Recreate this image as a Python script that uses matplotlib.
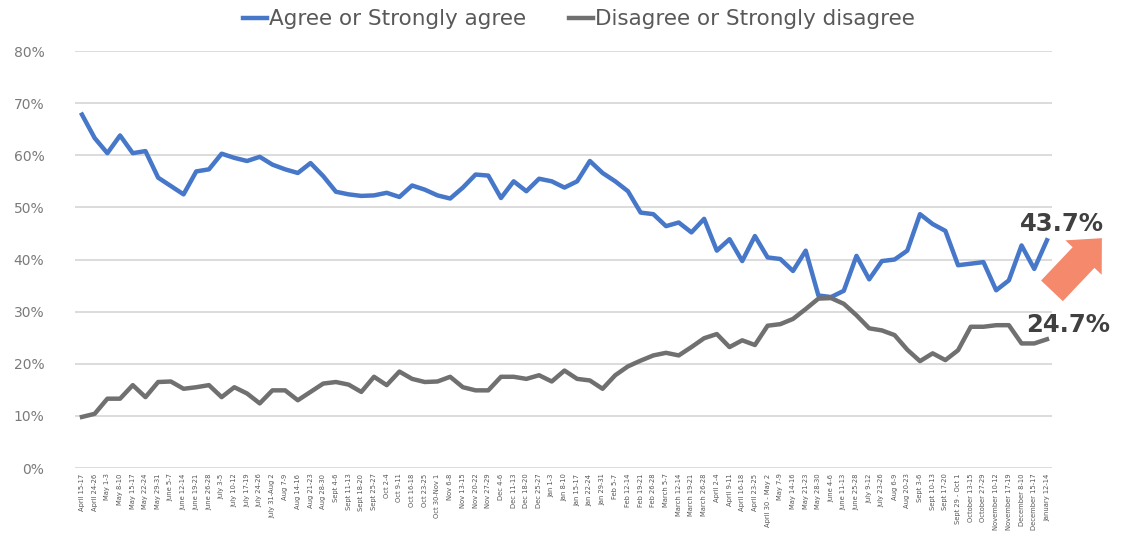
import matplotlib
matplotlib.use("Agg")
import matplotlib.pyplot as plt
from matplotlib.ticker import PercentFormatter

# weekly survey waves (x axis)
waves = [
    "April 15-17", "April 24-26", "May 1-3", "May 8-10", "May 15-17", "May 22-24",
    "May 29-31", "June 5-7", "June 12-14", "June 19-21", "June 26-28", "July 3-5",
    "July 10-12", "July 17-19", "July 24-26", "July 31-Aug 2", "Aug 7-9", "Aug 14-16",
    "Aug 21-23", "Aug 28-30", "Sept 4-6", "Sept 11-13", "Sept 18-20", "Sept 25-27",
    "Oct 2-4", "Oct 9-11", "Oct 16-18", "Oct 23-25", "Oct 30-Nov 1", "Nov 6-8",
    "Nov 13-15", "Nov 20-22", "Nov 27-29", "Dec 4-6", "Dec 11-13", "Dec 18-20",
    "Dec 25-27", "Jan 1-3", "Jan 8-10", "Jan 15-17", "Jan 22-24", "Jan 29-31",
    "Feb 5-7", "Feb 12-14", "Feb 19-21", "Feb 26-28", "March 5-7", "March 12-14",
    "March 19-21", "March 26-28", "April 2-4", "April 9-11", "April 16-18", "April 23-25",
    "April 30 - May 2", "May 7-9", "May 14-16", "May 21-23", "May 28-30", "June 4-6",
    "June 11-13", "June 25-28", "July 9-12", "July 23-26", "Aug 6-9", "Aug 20-23",
    "Sept 3-6", "Sept 10-13", "Sept 17-20", "Sept 29 - Oct 1", "October 13-15",
    "October 27-29", "November 10-12", "November 17-19", "December 8-10",
    "December 15-17", "January 12-14",
]

agree = [
    67.8, 63.3, 60.4, 63.8, 60.4, 60.8, 55.7, 54.1, 52.5, 56.9,
    57.3, 60.3, 59.5, 58.9, 59.7, 58.2, 57.3, 56.6, 58.5, 56.0,
    53.0, 52.5, 52.2, 52.3, 52.8, 52.0, 54.2, 53.4, 52.3, 51.7,
    53.8, 56.3, 56.1, 51.8, 55.0, 53.1, 55.5, 55.0, 53.8, 55.0,
    58.9, 56.6, 55.0, 53.1, 49.0, 48.7, 46.4, 47.1, 45.2, 47.8,
    41.7, 43.9, 39.7, 44.5, 40.4, 40.1, 37.8, 41.7, 33.1, 32.8,
    34.0, 40.7, 36.2, 39.7, 40.0, 41.7, 48.7, 46.8, 45.5, 38.9,
    39.2, 39.5, 34.1, 36.0, 42.7, 38.2, 43.7,
]

disagree = [
    9.8, 10.4, 13.3, 13.3, 15.9, 13.6, 16.5, 16.6, 15.2, 15.5,
    15.9, 13.6, 15.5, 14.3, 12.4, 14.9, 14.9, 13.0, 14.6, 16.2,
    16.5, 16.0, 14.6, 17.5, 15.9, 18.5, 17.1, 16.5, 16.6, 17.5,
    15.5, 14.9, 14.9, 17.5, 17.5, 17.1, 17.8, 16.6, 18.7, 17.1,
    16.8, 15.2, 17.8, 19.5, 20.6, 21.6, 22.1, 21.6, 23.2, 24.9,
    25.7, 23.2, 24.5, 23.6, 27.3, 27.6, 28.6, 30.5, 32.5, 32.6,
    31.5, 29.3, 26.8, 26.4, 25.5, 22.7, 20.5, 22.0, 20.7, 22.6,
    27.1, 27.1, 27.4, 27.4, 23.9, 23.9, 24.7,
]

blue = "#4677c8"
grey = "#707070"
txt = "#7a7a7a"

fig = plt.figure(figsize=(11.26, 5.49), dpi=100)
ax = fig.add_axes([0.0666, 0.1475, 0.8677, 0.7596])

x = list(range(len(waves)))
ax.plot(x, agree, color=blue, lw=3.2, solid_joinstyle="round",
        label="Agree or Strongly agree", zorder=3)
ax.plot(x, disagree, color=grey, lw=3.2, solid_joinstyle="round",
        label="Disagree or Strongly disagree", zorder=3)

ax.set_ylim(0, 80)
ax.set_xlim(-0.55, len(waves) - 0.6)
ax.set_yticks(range(0, 81, 10))
ax.yaxis.set_major_formatter(PercentFormatter(decimals=0))
ax.set_xticks(x)
ax.set_xticklabels(waves, rotation=90, fontsize=4.9, color="#555555")
ax.tick_params(axis="both", length=0)
ax.tick_params(axis="y", labelsize=10, labelcolor=txt, pad=22)
ax.tick_params(axis="x", pad=4)

ax.grid(axis="y", color="#d9d9d9", lw=1.3)
ax.set_axisbelow(True)
for s in ax.spines.values():
    s.set_visible(False)

# end labels and arrow
ax.text(1.010, 0.585, "43.7%", transform=ax.transAxes, ha="center", va="center",
        fontsize=17.5, fontweight="bold", color="#404040")
ax.text(1.016, 0.343, "24.7%", transform=ax.transAxes, ha="center", va="center",
        fontsize=17.5, fontweight="bold", color="#404040")
ax.annotate("", xy=(1.053, 0.556), xytext=(0.998, 0.42),
            xycoords="axes fraction", textcoords="axes fraction",
            arrowprops=dict(arrowstyle="simple,head_length=0.8,head_width=1.5,tail_width=0.9",
                            fc="#f4896b", ec="none", mutation_scale=24))

fig.legend(loc="center", bbox_to_anchor=(0.514, 0.965), ncol=2, frameon=False,
           handlelength=1.1, handletextpad=0.1, columnspacing=2.0,
           fontsize=15.5, labelcolor="#595959")

fig.savefig("out.png", dpi=100)
